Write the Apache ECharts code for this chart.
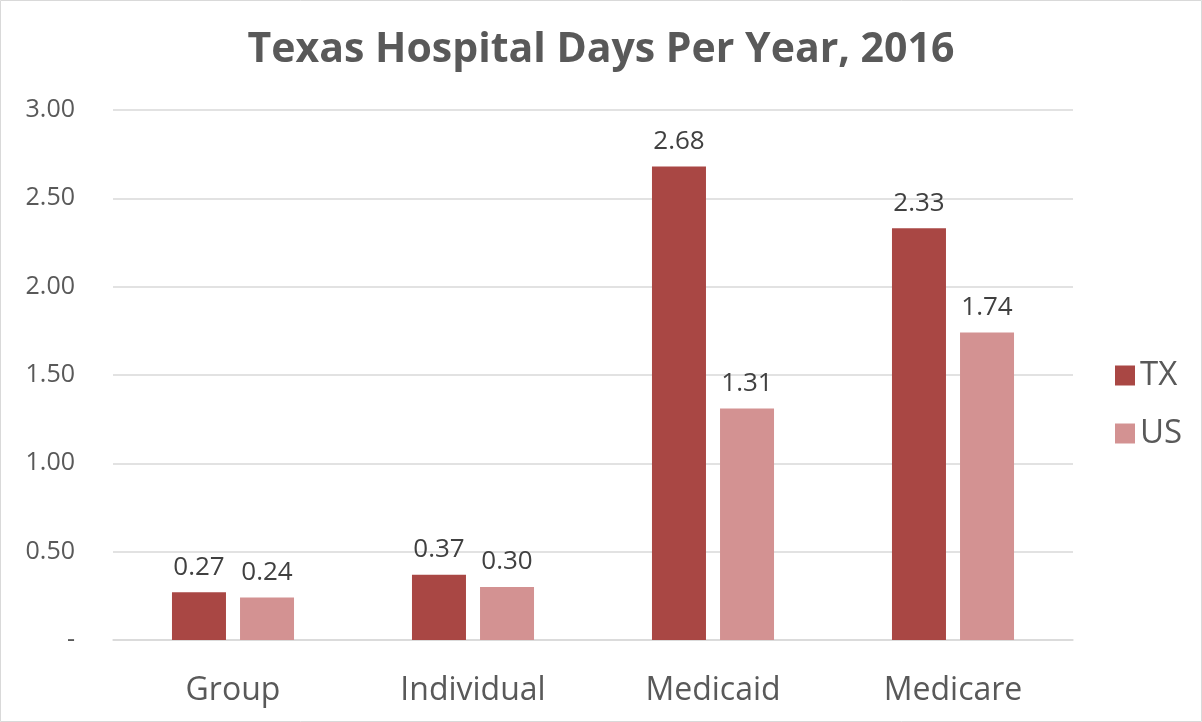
<!DOCTYPE html>
<html><head><meta charset="utf-8">
<script src="https://cdn.jsdelivr.net/npm/echarts@6/dist/echarts.min.js"></script>
<style>html,body{margin:0;padding:0;background:#fff}#c{width:1202px;height:722px}</style>
</head><body><div id="c"></div>
<script>
const categories = ['Group', 'Individual', 'Medicaid', 'Medicare'];
const txValues = [0.27, 0.37, 2.68, 2.33];
const usValues = [0.24, 0.30, 1.31, 1.74];
const seriesNames = ['TX', 'US'];
const seriesColors = ['#A94744', '#D39292'];
const titleText = 'Texas Hospital Days Per Year, 2016';

const font = '"Open Sans", "Noto Sans", sans-serif';
const chart = echarts.init(document.getElementById('c'), null, {renderer: 'canvas'});
const labelOpt = {
  show: true, position: 'top', distance: 12, color: '#404040', fontSize: 26, fontFamily: font,
  formatter: p => p.value.toFixed(2)
};
chart.setOption({
  animation: false,
  backgroundColor: '#fff',
  graphic: [{type: 'rect', shape: {x: 0.5, y: 0.5, width: 1201, height: 721},
    style: {fill: 'none', stroke: '#D9D9D9', lineWidth: 1}}],
  title: {text: titleText, left: 'center', top: 25,
    textStyle: {fontFamily: font, fontSize: 41, fontWeight: 'bold', color: '#595959'}},
  legend: {orient: 'vertical', left: 1110, top: 354, itemWidth: 20, itemHeight: 20, itemGap: 25,
    icon: 'rect', textStyle: {fontFamily: font, fontSize: 33, lineHeight: 33, color: '#595959'}, data: seriesNames},
  grid: {left: 113, right: 129, top: 110, bottom: 82, containLabel: false},
  xAxis: {type: 'category', data: categories,
    axisLine: {show: true, lineStyle: {color: '#D9D9D9', width: 1.5}},
    axisTick: {show: false},
    axisLabel: {fontFamily: font, fontSize: 32, color: '#595959', margin: 35}},
  yAxis: {type: 'value', min: 0, max: 3, interval: 0.5,
    axisLine: {show: false}, axisTick: {show: false},
    splitLine: {lineStyle: {color: '#D9D9D9', width: 1.5}},
    axisLabel: {fontFamily: font, fontSize: 25, color: '#595959', margin: 38,
      formatter: v => v === 0 ? '-' : v.toFixed(2)}},
  series: [
    {name: seriesNames[0], type: 'bar', data: txValues, barWidth: 54, barGap: '26%',
      itemStyle: {color: seriesColors[0]}, label: labelOpt},
    {name: seriesNames[1], type: 'bar', data: usValues, barWidth: 54,
      itemStyle: {color: seriesColors[1]}, label: labelOpt}
  ]
});
</script></body></html>
